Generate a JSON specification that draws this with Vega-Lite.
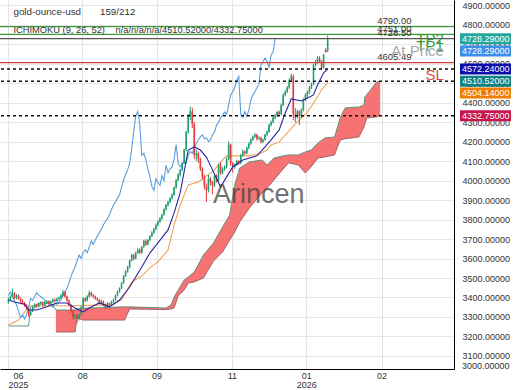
{
"$schema":"https://vega.github.io/schema/vega-lite/v6.json",
"width":454,"height":369,
"autosize":{"type":"none"},
"padding":{"left":0,"top":0,"right":66,"bottom":21},
"background":"white",
"config":{"view":{"stroke":null},"font":"Liberation Sans"},
"resolve":{"axis":{"x":"independent","y":"independent"}},
"datasets":{
"candles":[
{"b":0,"o":3375,"h":3400,"l":3368,"c":3390},{"b":1,"o":3390,"h":3412,"l":3385,"c":3405},{"b":2,"o":3405,"h":3445,"l":3400,"c":3420},{"b":3,"o":3420,"h":3428,"l":3392,"c":3398},{"b":4,"o":3398,"h":3418,"l":3390,"c":3410},{"b":5,"o":3410,"h":3415,"l":3388,"c":3395},{"b":6,"o":3395,"h":3400,"l":3372,"c":3380},{"b":7,"o":3380,"h":3390,"l":3365,"c":3372},{"b":8,"o":3372,"h":3378,"l":3352,"c":3360},{"b":9,"o":3360,"h":3366,"l":3338,"c":3345},
{"b":10,"o":3345,"h":3350,"l":3300,"c":3312},{"b":11,"o":3312,"h":3338,"l":3305,"c":3330},{"b":12,"o":3330,"h":3356,"l":3325,"c":3350},{"b":13,"o":3350,"h":3370,"l":3342,"c":3362},{"b":14,"o":3362,"h":3368,"l":3345,"c":3355},{"b":15,"o":3355,"h":3375,"l":3350,"c":3368},{"b":16,"o":3368,"h":3380,"l":3360,"c":3372},{"b":17,"o":3372,"h":3378,"l":3352,"c":3360},{"b":18,"o":3360,"h":3380,"l":3355,"c":3372},{"b":19,"o":3372,"h":3388,"l":3366,"c":3380},
{"b":20,"o":3380,"h":3384,"l":3360,"c":3368},{"b":21,"o":3368,"h":3385,"l":3362,"c":3378},{"b":22,"o":3378,"h":3395,"l":3372,"c":3388},{"b":23,"o":3388,"h":3394,"l":3375,"c":3382},{"b":24,"o":3382,"h":3400,"l":3378,"c":3392},{"b":25,"o":3392,"h":3405,"l":3385,"c":3398},{"b":26,"o":3398,"h":3418,"l":3392,"c":3410},{"b":27,"o":3410,"h":3440,"l":3405,"c":3428},{"b":28,"o":3428,"h":3432,"l":3398,"c":3405},{"b":29,"o":3405,"h":3410,"l":3378,"c":3385},
{"b":30,"o":3385,"h":3390,"l":3355,"c":3362},{"b":31,"o":3362,"h":3368,"l":3320,"c":3330},{"b":32,"o":3330,"h":3338,"l":3285,"c":3298},{"b":33,"o":3298,"h":3318,"l":3290,"c":3310},{"b":34,"o":3310,"h":3315,"l":3270,"c":3290},{"b":35,"o":3290,"h":3320,"l":3282,"c":3312},{"b":36,"o":3312,"h":3358,"l":3305,"c":3350},{"b":37,"o":3350,"h":3402,"l":3345,"c":3395},{"b":38,"o":3395,"h":3400,"l":3375,"c":3385},{"b":39,"o":3385,"h":3412,"l":3380,"c":3405},
{"b":40,"o":3405,"h":3435,"l":3400,"c":3425},{"b":41,"o":3425,"h":3430,"l":3405,"c":3412},{"b":42,"o":3412,"h":3418,"l":3398,"c":3405},{"b":43,"o":3405,"h":3410,"l":3388,"c":3395},{"b":44,"o":3395,"h":3400,"l":3380,"c":3388},{"b":45,"o":3388,"h":3392,"l":3365,"c":3372},{"b":46,"o":3372,"h":3388,"l":3366,"c":3380},{"b":47,"o":3380,"h":3384,"l":3355,"c":3362},{"b":48,"o":3362,"h":3368,"l":3340,"c":3350},{"b":49,"o":3350,"h":3376,"l":3345,"c":3370},
{"b":50,"o":3370,"h":3374,"l":3356,"c":3365},{"b":51,"o":3365,"h":3384,"l":3360,"c":3378},{"b":52,"o":3378,"h":3394,"l":3372,"c":3388},{"b":53,"o":3388,"h":3415,"l":3383,"c":3410},{"b":54,"o":3410,"h":3436,"l":3405,"c":3430},{"b":55,"o":3430,"h":3452,"l":3425,"c":3448},{"b":56,"o":3448,"h":3480,"l":3442,"c":3475},{"b":57,"o":3475,"h":3515,"l":3470,"c":3510},{"b":58,"o":3510,"h":3540,"l":3505,"c":3535},{"b":59,"o":3535,"h":3562,"l":3528,"c":3556},
{"b":60,"o":3556,"h":3595,"l":3550,"c":3590},{"b":61,"o":3590,"h":3625,"l":3585,"c":3618},{"b":62,"o":3618,"h":3625,"l":3592,"c":3600},{"b":63,"o":3600,"h":3636,"l":3595,"c":3630},{"b":64,"o":3630,"h":3655,"l":3624,"c":3645},{"b":65,"o":3645,"h":3652,"l":3622,"c":3630},{"b":66,"o":3630,"h":3665,"l":3625,"c":3660},{"b":67,"o":3660,"h":3696,"l":3655,"c":3690},{"b":68,"o":3690,"h":3698,"l":3665,"c":3672},{"b":69,"o":3672,"h":3700,"l":3668,"c":3695},
{"b":70,"o":3695,"h":3720,"l":3688,"c":3715},{"b":71,"o":3715,"h":3740,"l":3710,"c":3732},{"b":72,"o":3732,"h":3758,"l":3725,"c":3750},{"b":73,"o":3750,"h":3780,"l":3745,"c":3772},{"b":74,"o":3772,"h":3795,"l":3765,"c":3790},{"b":75,"o":3790,"h":3812,"l":3782,"c":3805},{"b":76,"o":3805,"h":3830,"l":3798,"c":3825},{"b":77,"o":3825,"h":3858,"l":3820,"c":3852},{"b":78,"o":3852,"h":3880,"l":3845,"c":3875},{"b":79,"o":3875,"h":3896,"l":3866,"c":3890},
{"b":80,"o":3890,"h":3915,"l":3882,"c":3910},{"b":81,"o":3910,"h":3935,"l":3902,"c":3928},{"b":82,"o":3928,"h":3970,"l":3922,"c":3965},{"b":83,"o":3965,"h":4008,"l":3958,"c":4003},{"b":84,"o":4003,"h":4038,"l":3995,"c":4030},{"b":85,"o":4030,"h":4060,"l":4020,"c":4055},{"b":86,"o":4055,"h":4095,"l":4048,"c":4090},{"b":87,"o":4090,"h":4165,"l":4085,"c":4160},{"b":88,"o":4160,"h":4255,"l":4150,"c":4250},{"b":89,"o":4250,"h":4340,"l":4240,"c":4330},
{"b":90,"o":4330,"h":4380,"l":4310,"c":4355},{"b":91,"o":4355,"h":4375,"l":4270,"c":4290},{"b":92,"o":4290,"h":4300,"l":4110,"c":4130},{"b":93,"o":4130,"h":4160,"l":4100,"c":4140},{"b":94,"o":4140,"h":4150,"l":4090,"c":4110},{"b":95,"o":4110,"h":4118,"l":4050,"c":4060},{"b":96,"o":4060,"h":4070,"l":4005,"c":4020},{"b":97,"o":4020,"h":4030,"l":3955,"c":3970},{"b":98,"o":3970,"h":3985,"l":3890,"c":3950},{"b":99,"o":3950,"h":4030,"l":3940,"c":4010},
{"b":100,"o":4010,"h":4018,"l":3975,"c":3990},{"b":101,"o":3990,"h":3998,"l":3930,"c":3975},{"b":102,"o":3975,"h":4035,"l":3968,"c":4025},{"b":103,"o":4025,"h":4032,"l":3990,"c":4000},{"b":104,"o":4000,"h":4088,"l":3995,"c":4080},{"b":105,"o":4080,"h":4095,"l":4030,"c":4040},{"b":106,"o":4040,"h":4068,"l":4032,"c":4060},{"b":107,"o":4060,"h":4078,"l":4050,"c":4070},{"b":108,"o":4070,"h":4120,"l":4062,"c":4110},{"b":109,"o":4110,"h":4200,"l":4105,"c":4185},
{"b":110,"o":4185,"h":4190,"l":4075,"c":4090},{"b":111,"o":4090,"h":4095,"l":4040,"c":4070},{"b":112,"o":4070,"h":4088,"l":4060,"c":4080},{"b":113,"o":4080,"h":4108,"l":4074,"c":4100},{"b":114,"o":4100,"h":4106,"l":4080,"c":4090},{"b":115,"o":4090,"h":4138,"l":4085,"c":4130},{"b":116,"o":4130,"h":4160,"l":4124,"c":4150},{"b":117,"o":4150,"h":4156,"l":4132,"c":4140},{"b":118,"o":4140,"h":4175,"l":4135,"c":4168},{"b":119,"o":4168,"h":4196,"l":4160,"c":4190},
{"b":120,"o":4190,"h":4218,"l":4184,"c":4210},{"b":121,"o":4210,"h":4232,"l":4204,"c":4225},{"b":122,"o":4225,"h":4245,"l":4218,"c":4235},{"b":123,"o":4235,"h":4240,"l":4205,"c":4215},{"b":124,"o":4215,"h":4228,"l":4208,"c":4220},{"b":125,"o":4220,"h":4226,"l":4190,"c":4200},{"b":126,"o":4200,"h":4216,"l":4192,"c":4210},{"b":127,"o":4210,"h":4240,"l":4205,"c":4235},{"b":128,"o":4235,"h":4258,"l":4228,"c":4250},{"b":129,"o":4250,"h":4292,"l":4245,"c":4285},
{"b":130,"o":4285,"h":4308,"l":4278,"c":4300},{"b":131,"o":4300,"h":4330,"l":4295,"c":4322},{"b":132,"o":4322,"h":4342,"l":4315,"c":4335},{"b":133,"o":4335,"h":4358,"l":4328,"c":4352},{"b":134,"o":4352,"h":4360,"l":4332,"c":4340},{"b":135,"o":4340,"h":4395,"l":4335,"c":4388},{"b":136,"o":4388,"h":4448,"l":4382,"c":4440},{"b":137,"o":4440,"h":4465,"l":4432,"c":4455},{"b":138,"o":4455,"h":4486,"l":4448,"c":4478},{"b":139,"o":4478,"h":4525,"l":4470,"c":4515},
{"b":140,"o":4515,"h":4550,"l":4508,"c":4535},{"b":141,"o":4535,"h":4545,"l":4310,"c":4340},{"b":142,"o":4340,"h":4372,"l":4300,"c":4325},{"b":143,"o":4325,"h":4365,"l":4318,"c":4355},{"b":144,"o":4355,"h":4360,"l":4285,"c":4330},{"b":145,"o":4330,"h":4370,"l":4322,"c":4362},{"b":146,"o":4362,"h":4422,"l":4355,"c":4415},{"b":147,"o":4415,"h":4448,"l":4408,"c":4440},{"b":148,"o":4440,"h":4462,"l":4425,"c":4455},{"b":149,"o":4455,"h":4485,"l":4445,"c":4478},
{"b":150,"o":4478,"h":4502,"l":4470,"c":4495},{"b":151,"o":4495,"h":4600,"l":4490,"c":4595},{"b":152,"o":4595,"h":4620,"l":4585,"c":4610},{"b":153,"o":4610,"h":4640,"l":4600,"c":4630},{"b":154,"o":4630,"h":4638,"l":4605,"c":4612},{"b":155,"o":4612,"h":4618,"l":4570,"c":4580},{"b":156,"o":4580,"h":4650,"l":4575,"c":4645},{"b":157,"o":4670,"h":4680,"l":4655,"c":4660},{"b":158,"o":4665,"h":4745,"l":4660,"c":4728.29}
],
"chikou":[
{"b":0,"v":3410},{"b":1,"v":3428},{"b":2,"v":3405},{"b":3,"v":3385},{"b":4,"v":3362},{"b":5,"v":3330},{"b":6,"v":3298},{"b":7,"v":3310},{"b":8,"v":3290},{"b":9,"v":3312},{"b":10,"v":3350},{"b":11,"v":3395},{"b":12,"v":3385},{"b":13,"v":3405},{"b":14,"v":3425},{"b":15,"v":3412},{"b":16,"v":3405},{"b":17,"v":3395},{"b":18,"v":3388},{"b":19,"v":3372},{"b":20,"v":3380},{"b":21,"v":3362},{"b":22,"v":3350},{"b":23,"v":3370},{"b":24,"v":3365},{"b":25,"v":3378},{"b":26,"v":3388},{"b":27,"v":3410},{"b":28,"v":3430},{"b":29,"v":3448},{"b":30,"v":3475},{"b":31,"v":3510},{"b":32,"v":3535},{"b":33,"v":3556},{"b":34,"v":3590},{"b":35,"v":3618},{"b":36,"v":3600},{"b":37,"v":3630},{"b":38,"v":3645},{"b":39,"v":3630},{"b":40,"v":3660},{"b":41,"v":3690},{"b":42,"v":3672},{"b":43,"v":3695},{"b":44,"v":3715},{"b":45,"v":3732},{"b":46,"v":3750},{"b":47,"v":3772},{"b":48,"v":3790},{"b":49,"v":3805},{"b":50,"v":3825},{"b":51,"v":3852},{"b":52,"v":3875},{"b":53,"v":3890},{"b":54,"v":3910},{"b":55,"v":3928},{"b":56,"v":3965},{"b":57,"v":4003},{"b":58,"v":4030},{"b":59,"v":4055},{"b":60,"v":4090},{"b":61,"v":4160},{"b":62,"v":4250},{"b":63,"v":4330},{"b":64,"v":4355},{"b":65,"v":4290},{"b":66,"v":4130},{"b":67,"v":4140},{"b":68,"v":4110},{"b":69,"v":4060},{"b":70,"v":4020},{"b":71,"v":3970},{"b":72,"v":3950},{"b":73,"v":4010},{"b":74,"v":3990},{"b":75,"v":3975},{"b":76,"v":4025},{"b":77,"v":4000},{"b":78,"v":4080},{"b":79,"v":4040},{"b":80,"v":4060},{"b":81,"v":4070},{"b":82,"v":4110},{"b":83,"v":4185},{"b":84,"v":4090},{"b":85,"v":4070},{"b":86,"v":4080},{"b":87,"v":4100},{"b":88,"v":4090},{"b":89,"v":4130},{"b":90,"v":4150},{"b":91,"v":4140},{"b":92,"v":4168},{"b":93,"v":4190},{"b":94,"v":4210},{"b":95,"v":4225},{"b":96,"v":4235},{"b":97,"v":4215},{"b":98,"v":4220},{"b":99,"v":4200},{"b":100,"v":4210},{"b":101,"v":4235},{"b":102,"v":4250},{"b":103,"v":4285},{"b":104,"v":4300},{"b":105,"v":4322},{"b":106,"v":4335},{"b":107,"v":4352},{"b":108,"v":4340},{"b":109,"v":4388},{"b":110,"v":4440},{"b":111,"v":4455},{"b":112,"v":4478},{"b":113,"v":4515},{"b":114,"v":4535},{"b":115,"v":4340},{"b":116,"v":4325},{"b":117,"v":4355},{"b":118,"v":4330},{"b":119,"v":4362},{"b":120,"v":4415},{"b":121,"v":4440},{"b":122,"v":4455},{"b":123,"v":4478},{"b":124,"v":4495},{"b":125,"v":4595},{"b":126,"v":4610},{"b":127,"v":4630},{"b":128,"v":4612},{"b":129,"v":4580},{"b":130,"v":4645},{"b":131,"v":4660},{"b":132,"v":4728.29}
],
"tenkan":[
{"b":0,"v":3387},{"b":3,"v":3377},{"b":8,"v":3366},{"b":10,"v":3336},{"b":14,"v":3336},{"b":19,"v":3352},{"b":24,"v":3372},{"b":29,"v":3372},{"b":33,"v":3346},{"b":37,"v":3326},{"b":40,"v":3346},{"b":45,"v":3372},{"b":50,"v":3352},{"b":55,"v":3387},{"b":60,"v":3454},{"b":63,"v":3505},{"b":66,"v":3557},{"b":70,"v":3628},{"b":74,"v":3680},{"b":79,"v":3747},{"b":82,"v":3834},{"b":85,"v":3937},{"b":89,"v":4157},{"b":92,"v":4173},{"b":95,"v":4157},{"b":98,"v":4121},{"b":101,"v":4055},{"b":105,"v":3967},{"b":108,"v":4019},{"b":111,"v":4070},{"b":116,"v":4106},{"b":123,"v":4127},{"b":127,"v":4173},{"b":130,"v":4209},{"b":134,"v":4260},{"b":137,"v":4347},{"b":140,"v":4419},{"b":145,"v":4409},{"b":148,"v":4424},{"b":151,"v":4440},{"b":153,"v":4491},{"b":156,"v":4553},{"b":158,"v":4572.24}
],
"kijun":[
{"b":0,"v":3259},{"b":5,"v":3284},{"b":8,"v":3325},{"b":10,"v":3356},{"b":30,"v":3358},{"b":51,"v":3362},{"b":56,"v":3387},{"b":61,"v":3480},{"b":66,"v":3510},{"b":70,"v":3552},{"b":74,"v":3583},{"b":79,"v":3644},{"b":82,"v":3772},{"b":85,"v":3875},{"b":89,"v":3978},{"b":94,"v":3993},{"b":98,"v":4024},{"b":102,"v":4055},{"b":106,"v":4106},{"b":108,"v":4127},{"b":119,"v":4127},{"b":124,"v":4137},{"b":128,"v":4157},{"b":130,"v":4183},{"b":134,"v":4198},{"b":137,"v":4234},{"b":142,"v":4291},{"b":148,"v":4352},{"b":152,"v":4414},{"b":155,"v":4465},{"b":158,"v":4504.14}
],
"spanA":[
{"b":0,"v":3254},{"b":10,"v":3254},{"b":11,"v":3352},{"b":17,"v":3377},{"b":22,"v":3362},{"b":23.5,"v":3336},{"b":33,"v":3336},{"b":34,"v":3341},{"b":37,"v":3346},{"b":40,"v":3346},{"b":57.5,"v":3352},{"b":60,"v":3352},{"b":78,"v":3346},{"b":80.5,"v":3362},{"b":82,"v":3402},{"b":84,"v":3438},{"b":87,"v":3490},{"b":89,"v":3505},{"b":92,"v":3531},{"b":96.5,"v":3618},{"b":101.5,"v":3680},{"b":106,"v":3762},{"b":109.5,"v":3824},{"b":112,"v":3978},{"b":114.5,"v":4065},{"b":119.3,"v":4096},{"b":125.6,"v":4106},{"b":128,"v":4080},{"b":131.4,"v":4116},{"b":136,"v":4127},{"b":138.7,"v":4132},{"b":143.5,"v":4132},{"b":146.9,"v":4147},{"b":149.8,"v":4157},{"b":153.2,"v":4193},{"b":156.6,"v":4219},{"b":161.4,"v":4224},{"b":162.9,"v":4275},{"b":164.3,"v":4326},{"b":166.7,"v":4373},{"b":173.5,"v":4378},{"b":176,"v":4388},{"b":176.4,"v":4429},{"b":182.2,"v":4506},{"b":184,"v":4510.52}
],
"cloud":[
{"b":23.5,"a":3336,"s":3223},{"b":33,"a":3336,"s":3223},{"b":34,"a":3341,"s":3295},{"b":37,"a":3346,"s":3284},{"b":40,"a":3346,"s":3284},{"b":57.5,"a":3352,"s":3284},{"b":60,"a":3352,"s":3341},{"b":78,"a":3346,"s":3338},{"b":80.5,"a":3362,"s":3341},{"b":82,"a":3402,"s":3346},{"b":84,"a":3438,"s":3408},{"b":87,"a":3490,"s":3438},{"b":89,"a":3505,"s":3474},{"b":92,"a":3531,"s":3480},{"b":96.5,"a":3618,"s":3500},{"b":101.5,"a":3680,"s":3587},{"b":106,"a":3762,"s":3634},{"b":109.5,"a":3824,"s":3695},{"b":112,"a":3978,"s":3736},{"b":114.5,"a":4065,"s":3788},{"b":119.3,"a":4096,"s":3860},{"b":125.6,"a":4106,"s":3937},{"b":128,"a":4080,"s":3962},{"b":131.4,"a":4116,"s":4003},{"b":136,"a":4127,"s":4060},{"b":138.7,"a":4132,"s":4091},{"b":143.5,"a":4132,"s":4080},{"b":146.9,"a":4147,"s":4039},{"b":149.8,"a":4157,"s":4070},{"b":153.2,"a":4193,"s":4116},{"b":156.6,"a":4219,"s":4121},{"b":161.4,"a":4224,"s":4132},{"b":162.9,"a":4275,"s":4173},{"b":164.3,"a":4326,"s":4209},{"b":166.7,"a":4373,"s":4215},{"b":170,"a":4376,"s":4219},{"b":173.5,"a":4378,"s":4224},{"b":176,"a":4388,"s":4275},{"b":176.4,"a":4429,"s":4290},{"b":177.4,"a":4440,"s":4322},{"b":182.2,"a":4506,"s":4327},{"b":184,"a":4510.52,"s":4332.75}
],
"levels":[
{"name":"TP2","v":4790,"lab":"4790.00"},{"name":"TP1","v":4751,"lab":"4751.00"},{"name":"At Price","v":4728.5,"lab":"4728.50"},{"name":"SL","v":4605.49,"lab":"4605.49"}
],
"dashes":[{"v":4572.24},{"v":4510.52},{"v":4332.75}],
"tags":[
{"k":"close","v":4728.29},{"k":"chikou","v":4728.29},{"k":"tenkan","v":4572.24},{"k":"spanA","v":4510.52},{"k":"kijun","v":4504.14},{"k":"spanB","v":4332.75}
],
"one":[{}]
},
"layer":[
{"data":{"name":"cloud"},
 "mark":{"type":"area","color":"#f77272","opacity":1},
 "encoding":{
  "x":{"field":"b","type":"quantitative","scale":{"domain":[-1.69,218.06],"nice":false,"zero":false},
   "axis":{"orient":"bottom","title":null,"values":[-0.25,36.5,73.3,110.6,147.4,184.7],
    "labelExpr":"datum.value < 10 ? ['06','2025'] : datum.value < 50 ? '08' : datum.value < 90 ? '09' : datum.value < 130 ? '11' : datum.value < 160 ? ['01','2026'] : '02'",
    "labelOffset":{"condition":{"test":"datum.value < 10","value":10},"value":0},
    "grid":true,"gridColor":"#e3e3e3","ticks":false,"domainColor":"#000000","labelFontSize":9,"labelColor":"#333333","labelPadding":2,"labelLineHeight":9.5,"labelFlush":false,"labelOverlap":false}},
  "y":{"field":"a","type":"quantitative","scale":{"domain":[3033,4927],"nice":false,"zero":false},
   "axis":{"orient":"right","title":null,"values":[3100,3200,3300,3400,3500,3600,3700,3800,3900,4000,4100,4200,4300,4400,4500,4600,4700,4800,4900],
    "format":".5f","grid":true,"gridColor":"#e6e6e6","ticks":false,"domainColor":"#000000","labelFontSize":9,"labelColor":"#333333","labelPadding":8,"labelFlush":false,"labelOverlap":false}},
  "y2":{"field":"s"}}},
{"data":{"name":"cloud"},"mark":{"type":"line","color":"#8a5555","strokeWidth":1,"opacity":0.8},
 "encoding":{"x":{"field":"b","type":"quantitative","axis":null},"y":{"field":"s","type":"quantitative","axis":null}}},
{"data":{"name":"spanA"},"mark":{"type":"line","color":"#4a8a74","strokeWidth":1,"opacity":0.85},
 "encoding":{"x":{"field":"b","type":"quantitative","axis":null},"y":{"field":"v","type":"quantitative","axis":null}}},
{"data":{"name":"kijun"},"mark":{"type":"line","color":"#f0a35a","strokeWidth":1.1},
 "encoding":{"x":{"field":"b","type":"quantitative","axis":null},"y":{"field":"v","type":"quantitative","axis":null}}},
{"data":{"name":"chikou"},"mark":{"type":"line","color":"#5b9ee0","strokeWidth":1.1},
 "encoding":{"x":{"field":"b","type":"quantitative","axis":null},"y":{"field":"v","type":"quantitative","axis":null}}},
{"data":{"name":"candles"},"mark":{"type":"rule","strokeWidth":1},
 "encoding":{"x":{"field":"b","type":"quantitative","axis":null},"y":{"field":"l","type":"quantitative","axis":null},"y2":{"field":"h"},
  "color":{"condition":{"test":"datum.c >= datum.o","value":"#1f9e70"},"value":"#e23b3b"}}},
{"data":{"name":"candles"},"mark":{"type":"bar","width":1.6},
 "encoding":{"x":{"field":"b","type":"quantitative","axis":null},"y":{"field":"o","type":"quantitative","axis":null},"y2":{"field":"c"},
  "color":{"condition":{"test":"datum.c >= datum.o","value":"#1f9e70"},"value":"#e23b3b"}}},
{"data":{"name":"tenkan"},"mark":{"type":"line","color":"#2626a0","strokeWidth":1.1},
 "encoding":{"x":{"field":"b","type":"quantitative","axis":null},"y":{"field":"v","type":"quantitative","axis":null}}},
{"data":{"name":"levels"},"mark":{"type":"rule","strokeWidth":1.2},
 "encoding":{"y":{"field":"v","type":"quantitative","axis":null},
  "stroke":{"field":"name","type":"nominal","legend":null,"scale":{"domain":["TP2","TP1","At Price","SL"],"range":["#3d9a3d","#3d9a3d","#555555","#d23c3c"]}}}},
{"data":{"name":"dashes"},"mark":{"type":"rule","strokeWidth":1.5,"strokeDash":[3,3],"color":"#111111"},
 "encoding":{"y":{"field":"v","type":"quantitative","axis":null}}},
{"data":{"name":"levels"},"mark":{"type":"text","align":"left","baseline":"bottom","dy":-0.5,"fontSize":9.5,"color":"#333333"},
 "encoding":{"x":{"datum":182.5,"axis":null},"y":{"field":"v","type":"quantitative","axis":null},"text":{"field":"lab"}}},
{"data":{"name":"levels"},"mark":{"type":"text","align":"right","baseline":"middle","dy":12,"fontSize":15},
 "encoding":{"x":{"datum":215.5,"axis":null},"y":{"field":"v","type":"quantitative","axis":null},"text":{"field":"name"},
  "fill":{"field":"name","type":"nominal","legend":null,"scale":{"domain":["TP2","TP1","At Price","SL"],"range":["#3a9a3a","#3a9a3a","#a8a8a8","#e04848"]}}}},
{"data":{"name":"one"},"mark":{"type":"text","text":"gold-ounce-usd","align":"left","baseline":"middle","fontSize":9.8,"color":"#333333"},
 "encoding":{"x":{"datum":2.5,"axis":null},"y":{"datum":4863,"axis":null}}},
{"data":{"name":"one"},"mark":{"type":"text","text":"159/212","align":"left","baseline":"middle","fontSize":9.8,"color":"#333333"},
 "encoding":{"x":{"datum":45.3,"axis":null},"y":{"datum":4863,"axis":null}}},
{"data":{"name":"one"},"mark":{"type":"text","text":"ICHIMOKU (9, 26, 52)","align":"left","baseline":"middle","fontSize":9.3,"color":"#333333"},
 "encoding":{"x":{"datum":2.5,"axis":null},"y":{"datum":4773,"axis":null}}},
{"data":{"name":"one"},"mark":{"type":"text","text":"n/a/n/a/n/a/4510.52000/4332.75000","align":"left","baseline":"middle","fontSize":9.3,"color":"#333333"},
 "encoding":{"x":{"datum":53,"axis":null},"y":{"datum":4773,"axis":null}}},
{"data":{"name":"one"},"mark":{"type":"text","text":"Arincen","align":"center","baseline":"alphabetic","fontSize":27,"color":"#444444","opacity":0.75},
 "encoding":{"x":{"datum":123.9,"axis":null},"y":{"datum":3885,"axis":null}}},
{"data":{"name":"one"},"mark":{"type":"text","text":"3000.00000","align":"left","baseline":"middle","dx":8,"fontSize":9,"color":"#333333"},
 "encoding":{"x":{"value":"width"},"y":{"datum":3046,"axis":null}}},
{"data":{"name":"tags"},"transform":[{"filter":"datum.k != 'chikou' && datum.k != 'kijun'"}],
 "mark":{"type":"point","shape":"M1.09,-1H10.36V1H1.09Z","size":121,"filled":true,"opacity":1,"strokeWidth":0},
 "encoding":{"x":{"value":"width"},"y":{"field":"v","type":"quantitative","axis":null},
  "color":{"field":"k","type":"nominal","legend":null,"scale":{"domain":["close","chikou","tenkan","spanA","kijun","spanB"],"range":["#26a69a","#3d8ee8","#0c0cab","#0f8282","#f07d00","#c8154b"]}}}},
{"data":{"name":"tags"},"transform":[{"filter":"datum.k == 'chikou'"}],
 "mark":{"type":"point","shape":"M1.09,1.24H10.36V3.24H1.09Z","size":121,"filled":true,"opacity":1,"strokeWidth":0},
 "encoding":{"x":{"value":"width"},"y":{"field":"v","type":"quantitative","axis":null},
  "color":{"field":"k","type":"nominal","legend":null}}},
{"data":{"name":"tags"},"transform":[{"filter":"datum.k == 'kijun'"}],
 "mark":{"type":"point","shape":"M1.09,0.93H10.36V2.93H1.09Z","size":121,"filled":true,"opacity":1,"strokeWidth":0},
 "encoding":{"x":{"value":"width"},"y":{"field":"v","type":"quantitative","axis":null},
  "color":{"field":"k","type":"nominal","legend":null}}},
{"data":{"name":"tags"},"transform":[{"filter":"datum.k != 'chikou' && datum.k != 'kijun'"}],
 "mark":{"type":"text","align":"left","baseline":"middle","dx":8,"fontSize":9,"color":"white"},
 "encoding":{"x":{"value":"width"},"y":{"field":"v","type":"quantitative","axis":null},"text":{"field":"v","type":"quantitative","format":".5f"}}},
{"data":{"name":"tags"},"transform":[{"filter":"datum.k == 'chikou'"}],
 "mark":{"type":"text","align":"left","baseline":"middle","dx":8,"dy":12.3,"fontSize":9,"color":"white"},
 "encoding":{"x":{"value":"width"},"y":{"field":"v","type":"quantitative","axis":null},"text":{"field":"v","type":"quantitative","format":".5f"}}},
{"data":{"name":"tags"},"transform":[{"filter":"datum.k == 'kijun'"}],
 "mark":{"type":"text","align":"left","baseline":"middle","dx":8,"dy":10.6,"fontSize":9,"color":"white"},
 "encoding":{"x":{"value":"width"},"y":{"field":"v","type":"quantitative","axis":null},"text":{"field":"v","type":"quantitative","format":".5f"}}}
]
}
